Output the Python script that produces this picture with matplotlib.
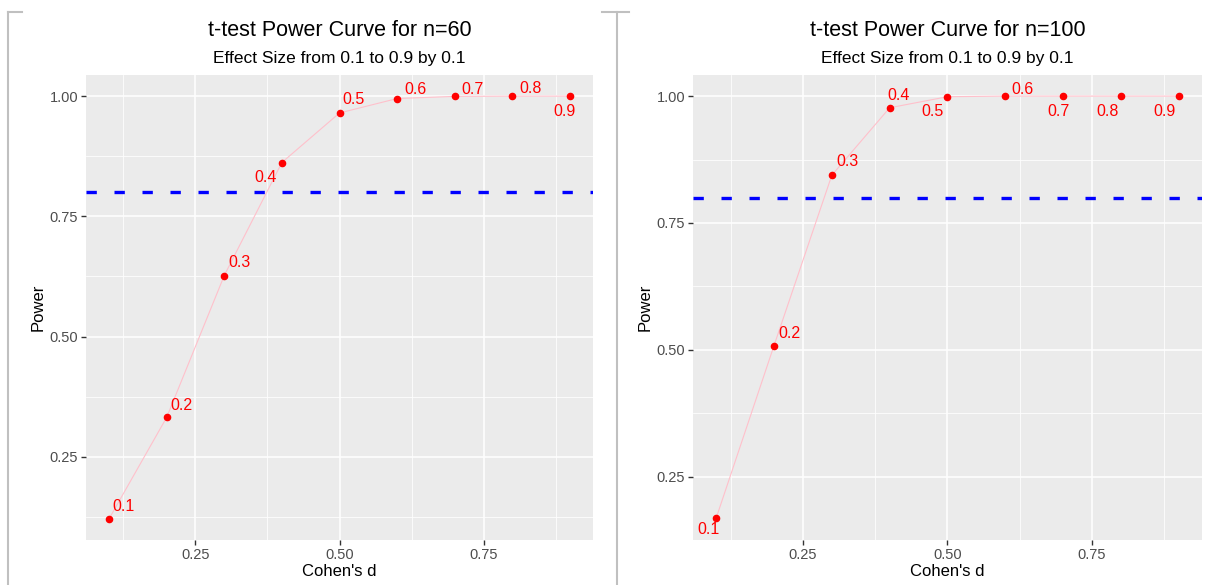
import matplotlib
matplotlib.use('Agg')
import matplotlib.pyplot as plt
from matplotlib.lines import Line2D

plt.rcParams['font.family'] = ['Liberation Sans', 'DejaVu Sans']

# Effect sizes and power values
effect = [0.1, 0.2, 0.3, 0.4, 0.5, 0.6, 0.7, 0.8, 0.9]
labels = ['0.1', '0.2', '0.3', '0.4', '0.5', '0.6', '0.7', '0.8', '0.9']
power_n60 = [0.121, 0.332, 0.627, 0.862, 0.965, 0.995, 0.9995, 1.0, 1.0]
power_n100 = [0.168, 0.508, 0.844, 0.977, 0.9988, 1.0, 1.0, 1.0, 1.0]
target_power = 0.8

# label offsets in pixels (dx, dy), roughly where the labels sat
offs_n60 = [(14, 12), (15, 12), (15, 13), (-16, -15), (14, 13),
            (18, 9), (18, 7), (18, 8), (-5, -15)]
offs_n100 = [(-8, -11), (15, 12), (16, 14), (9, 12), (-15, -15),
             (17, 7), (-5, -15), (-13, -15), (-14, -15)]

x_ticks = [0.25, 0.50, 0.75]
y_ticks = [0.25, 0.50, 0.75, 1.00]


def power_panel(ax, power, offs, n):
    ax.set_facecolor('#EBEBEB')
    for s in ax.spines.values():
        s.set_visible(False)
    ax.set_axisbelow(True)

    lo, hi = min(effect), max(effect)
    pad = (hi - lo) * 0.05
    ax.set_xlim(lo - pad, hi + pad)
    lo, hi = min(power), max(power)
    pad = (hi - lo) * 0.05
    ax.set_ylim(lo - pad, hi + pad)

    ax.set_xticks(x_ticks)
    ax.set_xticklabels(['0.25', '0.50', '0.75'])
    ax.set_yticks(y_ticks)
    ax.set_yticklabels(['0.25', '0.50', '0.75', '1.00'])
    ax.set_xticks([0.125, 0.375, 0.625, 0.875], minor=True)
    ax.set_yticks([0.125, 0.375, 0.625, 0.875], minor=True)
    ax.grid(which='major', color='white', linewidth=1.1)
    ax.grid(which='minor', color='white', linewidth=0.55)
    ax.tick_params(which='major', length=3.5, width=1, color='#333333',
                   labelcolor='#4D4D4D', labelsize=10.5, pad=2)
    ax.tick_params(which='minor', length=0)

    ax.plot(effect, power, color='pink', linewidth=0.8, zorder=2)
    ax.scatter(effect, power, color='red', s=20, zorder=3)
    for x, y, lab, (dx, dy) in zip(effect, power, labels, offs):
        ax.annotate(lab, (x, y), xytext=(dx, dy), textcoords='offset pixels',
                    color='red', fontsize=11.5, ha='center', va='center')

    ax.axhline(target_power, color='blue', linewidth=2.4,
               linestyle=(0, (3.1, 5.3)), zorder=2)

    ax.set_xlabel("Cohen's d", fontsize=12, labelpad=2)
    ax.set_ylabel('Power', fontsize=12, labelpad=3)
    ax.text(0.5, 1.0 + 45 / 465, 't-test Power Curve for n=%d' % n,
            transform=ax.transAxes, ha='center', va='center', fontsize=15.5)
    ax.text(0.5, 1.0 + 16 / 465, 'Effect Size from 0.1 to 0.9 by 0.1',
            transform=ax.transAxes, ha='center', va='center', fontsize=12.5)


fig = plt.figure(figsize=(12.12, 5.85), dpi=100)
W, H = 1212, 585
ax1 = fig.add_axes([86 / W, 1 - 540 / H, (593 - 86) / W, 465 / H])
ax2 = fig.add_axes([693 / W, 1 - 540 / H, (1202 - 693) / W, 465 / H])
power_panel(ax1, power_n60, offs_n60, 60)
power_panel(ax2, power_n100, offs_n100, 100)

# light grey frame marks on the page
grey = '#C0C0C0'
for xs, ys in [([8, 8], [12, 585]), ([8, 22], [12, 12]),
               ([617, 617], [12, 585]), ([602, 629], [12, 12])]:
    fig.add_artist(Line2D([x / W for x in xs], [1 - y / H for y in ys],
                          color=grey, linewidth=1.5))

plt.savefig('out.png', dpi=100)
